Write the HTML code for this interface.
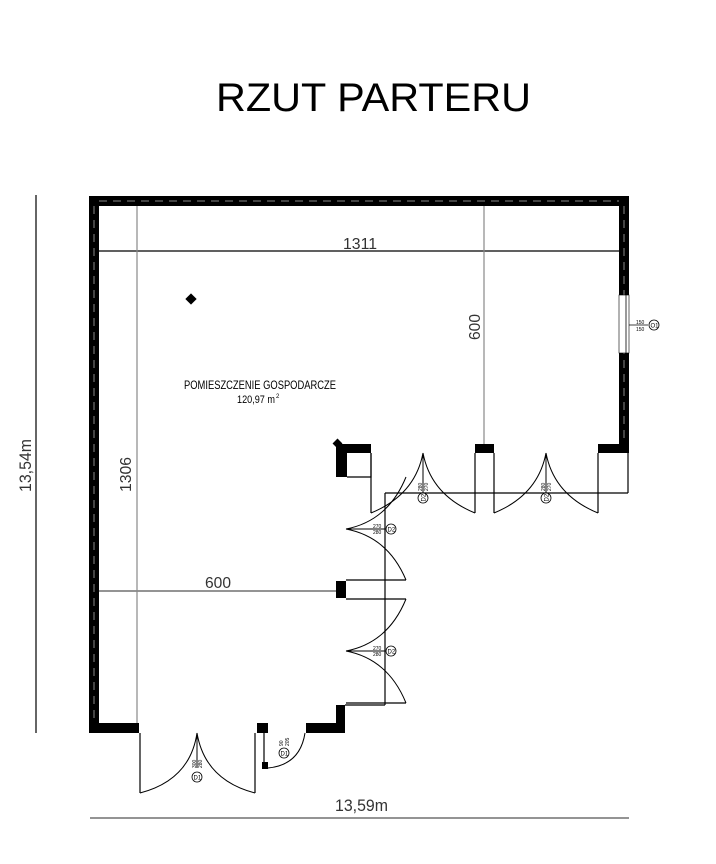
<!DOCTYPE html>
<html><head><meta charset="utf-8"><style>
html,body{margin:0;padding:0;background:#fff;width:716px;height:864px;overflow:hidden}
svg{display:block}
text{font-family:"Liberation Sans",sans-serif}
</style></head><body>
<svg width="716" height="864" viewBox="0 0 716 864" xmlns="http://www.w3.org/2000/svg">
<text x="216" y="111" font-size="40" textLength="315" lengthAdjust="spacingAndGlyphs">RZUT PARTERU</text>

<!-- walls -->
<g fill="#000">
<rect x="89" y="196" width="540" height="10"/>
<rect x="89" y="196" width="10" height="537"/>
<rect x="619" y="196" width="10" height="256"/>
<rect x="89" y="723" width="50" height="10"/>
<rect x="598" y="444" width="31" height="9"/>
<rect x="475" y="444" width="19" height="9"/>
<rect x="336" y="444" width="35" height="9"/>
<rect x="336" y="444" width="11" height="33"/>
<rect x="336" y="581" width="10" height="17"/>
<rect x="257" y="723" width="11" height="10"/>
<rect x="306" y="723" width="39" height="10"/>
<rect x="336" y="705" width="9" height="28"/>
<rect x="262" y="762" width="6" height="7"/>
</g>
<!-- wall dashes -->
<g stroke="#888" stroke-width="1" stroke-dasharray="8,6" fill="none">
<line x1="99" y1="201" x2="619" y2="201"/>
<line x1="94" y1="206" x2="94" y2="723"/>
<line x1="624" y1="206" x2="624" y2="444"/>
</g>
<!-- window -->
<rect x="619" y="295" width="10" height="58" fill="#fff" stroke="#000" stroke-width="0.6"/>
<line x1="626" y1="295" x2="626" y2="353" stroke="#000" stroke-width="0.8"/>
<line x1="629" y1="325" x2="648" y2="325" stroke="#000" stroke-width="0.8"/>
<circle cx="654" cy="325" r="5" fill="none" stroke="#000" stroke-width="0.8"/>
<text x="650.5" y="327.5" font-size="6">O1</text>
<text x="636" y="324" font-size="5">150</text>
<text x="636" y="331" font-size="5">150</text>

<!-- diamonds -->
<rect x="187" y="295" width="8" height="8" transform="rotate(45 191 299)"/>
<rect x="334" y="440" width="7" height="7" transform="rotate(45 337.5 443.5)"/>

<!-- dimension lines -->
<g stroke="#000" stroke-width="1.2" fill="none">
<line x1="99" y1="251" x2="619" y2="251"/>
<line x1="99" y1="591" x2="336" y2="591" stroke="#555"/>
<line x1="137" y1="206" x2="137" y2="723" stroke="#888"/>
<line x1="484" y1="206" x2="484" y2="444" stroke="#888"/>
<line x1="36" y1="195" x2="36" y2="733"/>
<line x1="90" y1="818" x2="629" y2="818" stroke="#555"/>
</g>
<g fill="#333">
<text x="343" y="249" font-size="16" textLength="34" lengthAdjust="spacingAndGlyphs">1311</text>
<text x="205" y="588" font-size="16" textLength="26" lengthAdjust="spacingAndGlyphs">600</text>
<text x="335" y="811" font-size="17" textLength="53" lengthAdjust="spacingAndGlyphs">13,59m</text>
<text transform="translate(131 492) rotate(-90)" font-size="16" textLength="35" lengthAdjust="spacingAndGlyphs">1306</text>
<text transform="translate(480 340) rotate(-90)" font-size="16" textLength="26" lengthAdjust="spacingAndGlyphs">600</text>
<text transform="translate(31 492) rotate(-90)" font-size="17" textLength="53" lengthAdjust="spacingAndGlyphs">13,54m</text>
</g>

<text x="184" y="389" font-size="12" textLength="152" lengthAdjust="spacingAndGlyphs">POMIESZCZENIE GOSPODARCZE</text>
<text x="237" y="403" font-size="11" textLength="38" lengthAdjust="spacingAndGlyphs">120,97 m</text>
<text x="276" y="398" font-size="6">2</text>

<!-- door frames / lines -->
<g stroke="#000" stroke-width="1.2" fill="none">
<polyline points="347,477 371,477 371,453"/>
<line x1="371" y1="453" x2="371" y2="513"/>
<line x1="385" y1="493" x2="628" y2="493"/>
<line x1="628" y1="453" x2="628" y2="493"/>
<line x1="385" y1="493" x2="385" y2="705"/>
<line x1="475" y1="453" x2="475" y2="513"/>
<line x1="494" y1="453" x2="494" y2="513"/>
<line x1="598" y1="453" x2="598" y2="513"/>
<line x1="346" y1="580" x2="406" y2="580"/>
<line x1="346" y1="599" x2="406" y2="599"/>
<line x1="346" y1="703" x2="406" y2="703"/>
<line x1="345" y1="705" x2="385" y2="705"/>
<line x1="140" y1="733" x2="140" y2="793"/>
<line x1="255" y1="733" x2="255" y2="793"/>
<line x1="264" y1="733" x2="264" y2="768"/>
</g>
<!-- door arcs -->
<g stroke="#000" stroke-width="1" fill="none">
<path d="M371,513 Q415,495 423,453"/>
<path d="M475,513 Q431,495 423,453"/>
<line x1="423" y1="453" x2="423" y2="493"/>
<path d="M494,513 Q538,495 546,453"/>
<path d="M598,513 Q554,495 546,453"/>
<line x1="546" y1="453" x2="546" y2="493"/>
<path d="M406,477 Q388,521 346,529"/>
<path d="M406,580 Q388,537 346,529"/>
<line x1="346" y1="529" x2="385" y2="529"/>
<path d="M406,599 Q388,643 346,651"/>
<path d="M406,703 Q388,659 346,651"/>
<line x1="346" y1="651" x2="385" y2="651"/>
<path d="M140,793 Q190,780 197,733"/>
<path d="M255,793 Q205,780 197,733"/>
<line x1="197" y1="733" x2="197" y2="768"/>
<path d="M268,768 Q300,765 305,733"/>
</g>
<!-- tags -->
<g fill="#fff" stroke="#000" stroke-width="0.8">
<circle cx="423" cy="498" r="5"/><circle cx="546" cy="498" r="5"/>
<circle cx="391" cy="529" r="5"/><circle cx="391" cy="651" r="5"/>
<circle cx="197" cy="777" r="5"/><circle cx="284" cy="753" r="5"/>
</g>
<g font-size="5">
<text x="373" y="528">270</text><text x="373" y="534">280</text>
<text x="373" y="650">270</text><text x="373" y="656">280</text>
<text transform="translate(422 491) rotate(-90)">280</text>
<text transform="translate(428 491) rotate(-90)">270</text>
<text transform="translate(545 491) rotate(-90)">280</text>
<text transform="translate(551 491) rotate(-90)">270</text>
<text transform="translate(196 768) rotate(-90)">300</text>
<text transform="translate(202 768) rotate(-90)">280</text>
<text transform="translate(283 746) rotate(-90)">90</text>
<text transform="translate(289 746) rotate(-90)">205</text>
<text transform="translate(425.5 501.5) rotate(-90)" font-size="6">D2</text>
<text transform="translate(548.5 501.5) rotate(-90)" font-size="6">D2</text>
<text x="387.5" y="531.5" font-size="6">D2</text>
<text x="387.5" y="653.5" font-size="6">D2</text>
<text x="193.5" y="779.5" font-size="6">D1</text>
<text x="280.5" y="755.5" font-size="6">D1</text>
</g>
</svg>
</body></html>
